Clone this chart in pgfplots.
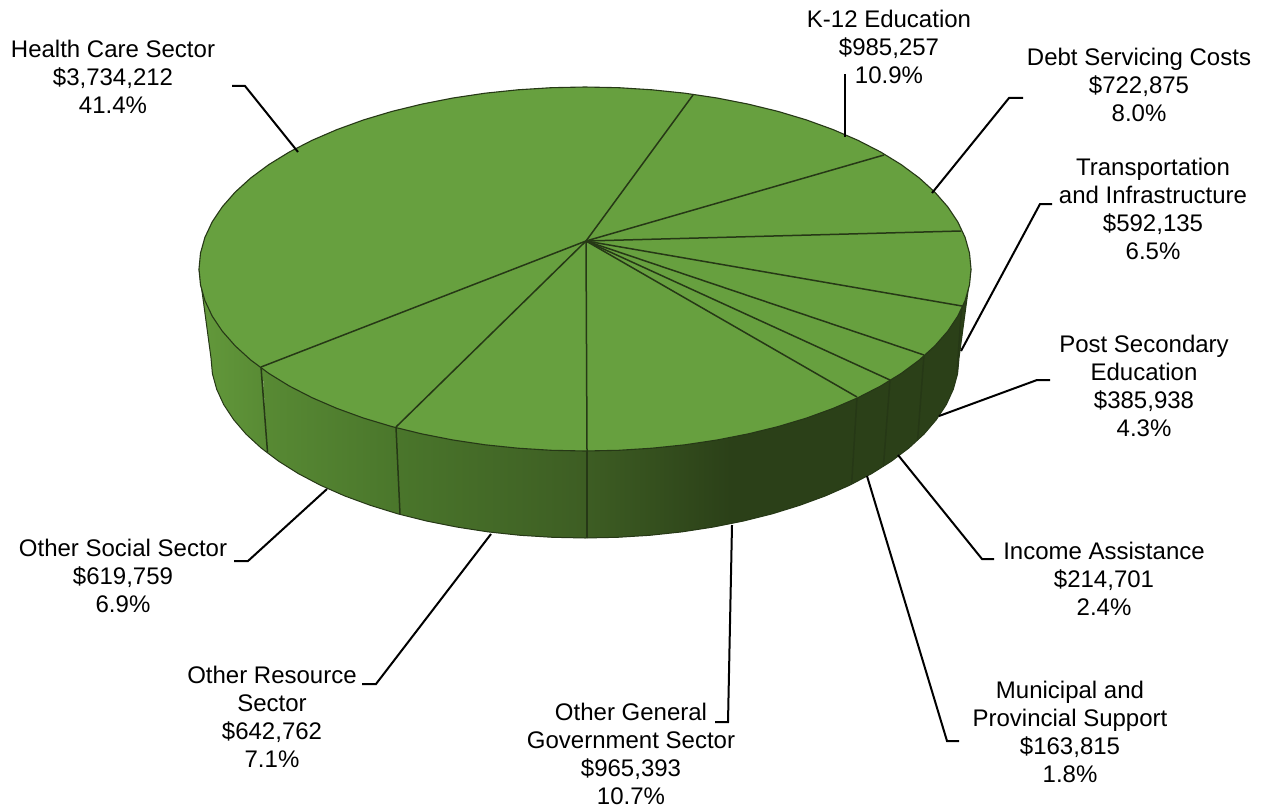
\documentclass[border=0pt]{standalone}
\usepackage{pgfplots}
\pgfplotsset{compat=1.18}
\usepackage{fontspec}
\setmainfont{Liberation Sans}
\definecolor{topg}{RGB}{103,160,63}
\definecolor{edge}{RGB}{38,56,22}
\definecolor{darkg}{RGB}{43,64,24}
\newcommand{\lab}[3]{\node[align=center,font=\fontsize{24.09}{28.1}\selectfont,text=black,inner sep=0pt] at (axis cs:#1,#2) {#3};}
\begin{document}
\begin{tikzpicture}
\begin{axis}[
  scale only axis, width=1261bp, height=808bp,
  xmin=0, xmax=1261, ymin=0, ymax=808, y dir=reverse,
  hide axis, clip=false]
% side faces, left to right
\addplot[draw=none,left color={rgb,255:red,99;green,153;blue,59},right color={rgb,255:red,88;green,138;blue,52}] coordinates {
 (199,269)(211,358)(212.4,373.7)(216.7,389.3)(223.7,404.6)(233.6,419.6)(246,434.1)(261.1,448)(268,453)(262,360)} --cycle;
\addplot[draw=none,left color={rgb,255:red,88;green,138;blue,52},right color={rgb,255:red,74;green,118;blue,43}] coordinates {
 (262,360)(267.5,452.5)(278.6,461.2)(298.5,473.7)(320.5,485.3)(344.6,495.9)(370.5,505.4)(398,513.9)(400.5,514.5)(396,420)} --cycle;
\addplot[draw=none,left color={rgb,255:red,74;green,118;blue,43},right color={rgb,255:red,61;green,93;blue,35}] coordinates {
 (396,420)(400,514.3)(426.9,521.1)(457.1,527.1)(488.2,531.9)(520.1,535.3)(552.4,537.3)(585,538)(588,538)(587,440)} --cycle;
\addplot[draw=none,left color={rgb,255:red,61;green,93;blue,35},right color=darkg] coordinates {
 (587,440)(587,538)(617.6,537.3)(649.9,535.3)(681.8,531.9)(712.9,527.1)(731,523.5)(731,420)} --cycle;
\addplot[draw=none,fill=darkg] coordinates {
 (730,420)(730,523.7)(743.1,521.1)(772,513.9)(799.5,505.4)(825.4,495.9)(849.5,485.3)(871.5,473.7)(891.4,461.2)(908.9,448)(924,434.1)(936.4,419.6)(946.3,404.6)(953.3,389.3)(957.6,373.7)(959,358)(971,269)} --cycle;
% outer outline of the side
\addplot[edge,line width=1bp] coordinates {
 (971,269)(959,358)(957.6,373.7)(953.3,389.3)(946.3,404.6)(936.4,419.6)(924,434.1)(908.9,448)(891.4,461.2)(871.5,473.7)(849.5,485.3)(825.4,495.9)(799.5,505.4)(772,513.9)(743.1,521.1)(712.9,527.1)(681.8,531.9)(649.9,535.3)(617.6,537.3)(585,538)(552.4,537.3)(520.1,535.3)(488.2,531.9)(457.1,527.1)(426.9,521.1)(398,513.9)(370.5,505.4)(344.6,495.9)(320.5,485.3)(298.5,473.7)(278.6,461.2)(261.1,448)(246,434.1)(233.6,419.6)(223.7,404.6)(216.7,389.3)(212.4,373.7)(211,358)(199,269)};
% side edges
\addplot[edge,line width=1.5bp] coordinates {(261,367)(267.5,452)};
\addplot[edge,line width=1.5bp] coordinates {(396,427)(400,514)};
\addplot[edge,line width=1.5bp] coordinates {(587,451)(587,538)};
\addplot[edge,line width=1.5bp] coordinates {(857,397)(851.7,483)};
\addplot[edge,line width=1.5bp] coordinates {(890,380)(883.5,465)};
\addplot[edge,line width=1.5bp] coordinates {(924,355)(917.7,439)};
\addplot[edge,line width=1.5bp] coordinates {(961.7,306)(957,372)};
% top face
\addplot[fill=topg,draw=edge,line width=1.1bp] coordinates {
 (971,269)(969.5,284.9)(965.1,300.6)(957.8,316.1)(947.7,331.2)(934.8,345.9)(919.3,360)(901.2,373.4)(880.7,386)(857.9,397.7)(833.1,408.4)(806.4,418.1)(778,426.6)(748.1,433.9)(717,440)(684.9,444.8)(652,448.2)(618.7,450.3)(585,451)
 (551.3,450.3)(518,448.2)(485.1,444.8)(453,440)(421.9,433.9)(392,426.6)(363.6,418.1)(336.9,408.4)(312.1,397.7)(289.3,386)(268.8,373.4)(250.7,360)(235.2,345.9)(222.3,331.2)(212.2,316.1)(204.9,300.6)(200.5,284.9)(199,269)
 (200.5,253.1)(204.9,237.4)(212.2,221.9)(222.3,206.8)(235.2,192.1)(250.7,178)(268.8,164.6)(289.3,152)(312.1,140.3)(336.9,129.6)(363.6,119.9)(392,111.4)(421.9,104.1)(453,98)(485.1,93.2)(518,89.8)(551.3,87.7)(585,87)
 (618.7,87.7)(652,89.8)(684.9,93.2)(717,98)(748.1,104.1)(778,111.4)(806.4,119.9)(833.1,129.6)(857.9,140.3)(880.7,152)(901.2,164.6)(919.3,178)(934.8,192.1)(947.7,206.8)(957.8,221.9)(965.1,237.4)(969.5,253.1)} --cycle;
% radial slice lines
\addplot[edge,line width=1.5bp] coordinates {(586,241)(693,95)};
\addplot[edge,line width=1.5bp] coordinates {(586,241)(884,155)};
\addplot[edge,line width=1.5bp] coordinates {(586,241)(961,231)};
\addplot[edge,line width=1.5bp] coordinates {(586,241)(962,306)};
\addplot[edge,line width=1.5bp] coordinates {(586,241)(924,355)};
\addplot[edge,line width=1.5bp] coordinates {(586,241)(890,380)};
\addplot[edge,line width=1.5bp] coordinates {(586,241)(857,397)};
\addplot[edge,line width=1.5bp] coordinates {(586,241)(587,451)};
\addplot[edge,line width=1.5bp] coordinates {(586,241)(396,427)};
\addplot[edge,line width=1.5bp] coordinates {(586,241)(261,367)};
% leader lines
\addplot[black,line width=2bp] coordinates {(232,86)(245,86)(298,152)};
\addplot[black,line width=2bp] coordinates {(845,137)(845,74)};
\addplot[black,line width=2bp] coordinates {(932,193)(1009,98)(1023,98)};
\addplot[black,line width=2bp] coordinates {(961,351)(1040,204)(1052,204)};
\addplot[black,line width=2bp] coordinates {(939,416)(1037,380)(1050,380)};
\addplot[black,line width=2bp] coordinates {(898,455)(982,559)(994,559)};
\addplot[black,line width=2bp] coordinates {(867,476)(947,741)(959,741)};
\addplot[black,line width=2bp] coordinates {(732,525)(728,722)(715,722)};
\addplot[black,line width=2bp] coordinates {(491,534)(376,684)(362,684)};
\addplot[black,line width=2bp] coordinates {(327,489)(248,561)(234,561)};
% labels
\lab{113}{77}{Health Care Sector\\\$3,734,212\\41.4\%}
\lab{889}{47}{K-12 Education\\\$985,257\\10.9\%}
\lab{1139}{85}{Debt Servicing Costs\\\$722,875\\8.0\%}
\lab{1153}{208.5}{Transportation\\and Infrastructure\\\$592,135\\6.5\%}
\lab{1144}{386}{Post Secondary\\Education\\\$385,938\\4.3\%}
\lab{1104}{579}{Income Assistance\\\$214,701\\2.4\%}
\lab{1070}{732}{Municipal and\\Provincial Support\\\$163,815\\1.8\%}
\lab{631}{754}{Other General\\Government Sector\\\$965,393\\10.7\%}
\lab{272}{717}{Other Resource\\Sector\\\$642,762\\7.1\%}
\lab{123}{576}{Other Social Sector\\\$619,759\\6.9\%}
\end{axis}
\pgfresetboundingbox
\path[use as bounding box] (0,0) rectangle (1261bp,808bp);
\end{tikzpicture}
\end{document}
